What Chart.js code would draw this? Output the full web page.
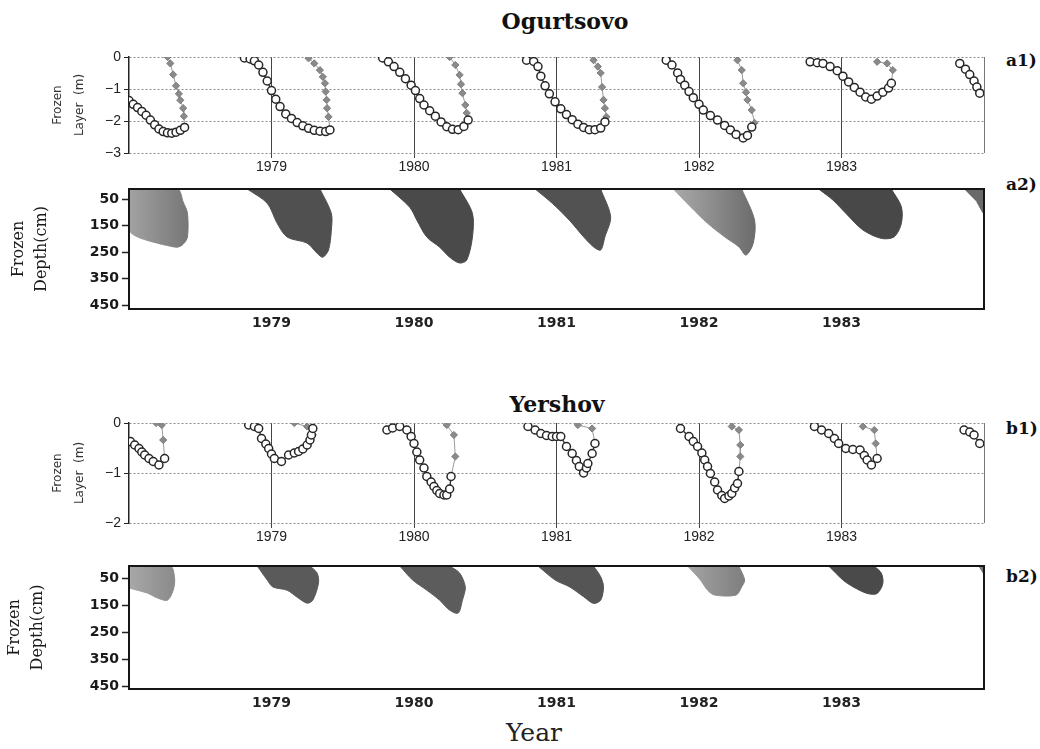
<!DOCTYPE html>
<html>
<head>
<meta charset="utf-8">
<title>Frozen layer - Ogurtsovo / Yershov</title>
<script src="https://cdn.jsdelivr.net/npm/chart.js@4.4.0/dist/chart.umd.min.js"></script>
<style>
	body { margin: 0; background: #fff; }
	#page { position: relative; width: 1040px; height: 749px; overflow: hidden; }
	.box { position: absolute; left: 0; width: 1040px; }
	.head { position: absolute; text-align: center; font-family: "DejaVu Serif"; font-weight: bold; font-size: 22px; color: #111; }
	.tag { position: absolute; left: 1006px; font-family: "DejaVu Serif"; font-weight: bold; font-size: 17px; color: #111; }
	.xlabel { position: absolute; left: 434px; top: 718px; width: 200px; text-align: center; font-family: "DejaVu Serif"; font-size: 25px; color: #222; }
</style>
</head>
<body>
<div id="page">
	<div class="head" style="left:465px; top:8px; width:200px;">Ogurtsovo</div>
	<div class="tag" style="top:50px;">a1)</div>
	<div class="tag" style="top:174px;">a2)</div>
	<div class="head" style="left:457px; top:391px; width:200px;">Yershov</div>
	<div class="tag" style="top:418px;">b1)</div>
	<div class="tag" style="top:566px;">b2)</div>
	<div class="xlabel">Year</div>

	<div class="box" style="top:45px; height:132px;"><canvas id="chartA1"></canvas></div>
	<div class="box" style="top:175px; height:158px;"><canvas id="chartA2"></canvas></div>
	<div class="box" style="top:411px; height:136px;"><canvas id="chartB1"></canvas></div>
	<div class="box" style="top:552px; height:161px;"><canvas id="chartB2"></canvas></div>
</div>
<script>
// time axis (years)
const xMin = 1978;
const xMax = 1984;
const yearTicks = [1979, 1980, 1981, 1982, 1983];

// tick values
const ogurLayerTicks = [0, -1, -2, -3];
const yershLayerTicks = [0, -1, -2];
const depthTicks = [50, 150, 250, 350, 450];
const depthMinorTicks = [100, 200, 300, 400];

// Ogurtsovo frozen layer (m), one list of [year, depth] per winter - open circles
const ogurFrozen = [
	[[1978.00,-1.36],[1978.03,-1.48],[1978.06,-1.58],[1978.09,-1.70],[1978.12,-1.82],[1978.15,-1.97],[1978.18,-2.12],[1978.21,-2.25],[1978.24,-2.33],[1978.27,-2.37],[1978.30,-2.38],[1978.33,-2.35],[1978.36,-2.29],[1978.39,-2.20]],
	[[1978.81,-0.03],[1978.85,-0.06],[1978.88,-0.12],[1978.91,-0.25],[1978.94,-0.48],[1978.97,-0.75],[1979.00,-1.05],[1979.03,-1.32],[1979.06,-1.55],[1979.10,-1.78],[1979.14,-1.92],[1979.18,-2.05],[1979.22,-2.15],[1979.26,-2.23],[1979.30,-2.29],[1979.34,-2.32],[1979.38,-2.33],[1979.41,-2.28]],
	[[1979.78,-0.03],[1979.82,-0.15],[1979.86,-0.30],[1979.90,-0.48],[1979.94,-0.68],[1979.98,-0.88],[1980.01,-1.05],[1980.04,-1.30],[1980.07,-1.50],[1980.11,-1.68],[1980.15,-1.85],[1980.19,-2.03],[1980.23,-2.18],[1980.27,-2.26],[1980.31,-2.27],[1980.35,-2.17],[1980.38,-1.97]],
	[[1980.79,-0.10],[1980.84,-0.14],[1980.87,-0.30],[1980.89,-0.60],[1980.92,-0.90],[1980.95,-1.15],[1980.99,-1.40],[1981.03,-1.62],[1981.07,-1.80],[1981.11,-1.96],[1981.15,-2.10],[1981.19,-2.20],[1981.23,-2.27],[1981.27,-2.27],[1981.31,-2.22],[1981.34,-2.03]],
	[[1981.77,-0.10],[1981.81,-0.25],[1981.85,-0.50],[1981.87,-0.70],[1981.90,-0.88],[1981.93,-1.08],[1981.96,-1.27],[1982.00,-1.48],[1982.03,-1.66],[1982.08,-1.83],[1982.13,-1.97],[1982.18,-2.14],[1982.22,-2.28],[1982.26,-2.42],[1982.31,-2.53],[1982.34,-2.45],[1982.37,-2.19]],
	[[1982.78,-0.15],[1982.83,-0.18],[1982.87,-0.20],[1982.92,-0.30],[1982.97,-0.43],[1983.01,-0.60],[1983.05,-0.78],[1983.09,-0.95],[1983.13,-1.10],[1983.17,-1.25],[1983.21,-1.32],[1983.25,-1.22],[1983.29,-1.10],[1983.33,-0.97],[1983.35,-0.82]],
	[[1983.83,-0.20],[1983.87,-0.38],[1983.90,-0.55],[1983.93,-0.75],[1983.95,-0.94],[1983.97,-1.13]]
];

// Ogurtsovo thawed layer from the surface (m) - grey diamonds
const ogurThaw = [
	[[1978.27,0],[1978.29,-0.20],[1978.31,-0.55],[1978.33,-0.90],[1978.35,-1.15],[1978.36,-1.35],[1978.38,-1.60],[1978.385,-1.85],[1978.39,-2.20]],
	[[1979.26,-0.04],[1979.30,-0.20],[1979.34,-0.41],[1979.36,-0.62],[1979.375,-0.82],[1979.38,-1.08],[1979.387,-1.34],[1979.39,-1.60],[1979.40,-1.87],[1979.41,-2.28]],
	[[1980.25,0],[1980.29,-0.25],[1980.32,-0.56],[1980.33,-0.85],[1980.34,-1.13],[1980.36,-1.50],[1980.37,-1.75],[1980.38,-1.97]],
	[[1981.26,-0.10],[1981.29,-0.30],[1981.31,-0.50],[1981.32,-0.94],[1981.33,-1.34],[1981.34,-1.60],[1981.35,-1.87],[1981.34,-2.03]],
	[[1982.27,-0.10],[1982.30,-0.41],[1982.31,-0.82],[1982.33,-1.10],[1982.34,-1.34],[1982.37,-1.66],[1982.39,-2.06]],
	[[1983.25,-0.15],[1983.32,-0.20],[1983.36,-0.41],[1983.35,-0.82]]
];

// Yershov frozen layer (m) - open circles
const yershFrozen = [
	[[1978.01,-0.37],[1978.04,-0.44],[1978.07,-0.51],[1978.09,-0.58],[1978.11,-0.64],[1978.14,-0.71],[1978.17,-0.77],[1978.21,-0.84],[1978.25,-0.71]],
	[[1978.84,-0.04],[1978.88,-0.07],[1978.91,-0.11],[1978.93,-0.31],[1978.96,-0.42],[1978.98,-0.51],[1979.00,-0.62],[1979.02,-0.71],[1979.07,-0.77],[1979.12,-0.64],[1979.16,-0.60],[1979.19,-0.57],[1979.22,-0.52],[1979.25,-0.44],[1979.27,-0.34],[1979.28,-0.24],[1979.29,-0.11]],
	[[1979.81,-0.14],[1979.85,-0.10],[1979.90,-0.07],[1979.95,-0.14],[1979.98,-0.27],[1980.00,-0.41],[1980.02,-0.58],[1980.04,-0.74],[1980.07,-0.90],[1980.09,-1.07],[1980.12,-1.18],[1980.14,-1.27],[1980.16,-1.35],[1980.18,-1.41],[1980.21,-1.44],[1980.23,-1.44],[1980.25,-1.32],[1980.26,-1.07]],
	[[1980.80,-0.07],[1980.85,-0.14],[1980.89,-0.21],[1980.93,-0.25],[1980.97,-0.27],[1981.00,-0.27],[1981.03,-0.27],[1981.07,-0.47],[1981.11,-0.61],[1981.14,-0.75],[1981.16,-0.87],[1981.19,-1.00],[1981.21,-0.90],[1981.22,-0.81],[1981.25,-0.61],[1981.27,-0.41]],
	[[1981.87,-0.11],[1981.93,-0.27],[1981.96,-0.37],[1981.99,-0.47],[1982.02,-0.60],[1982.04,-0.74],[1982.06,-0.87],[1982.08,-1.01],[1982.11,-1.18],[1982.13,-1.34],[1982.16,-1.45],[1982.18,-1.51],[1982.21,-1.46],[1982.23,-1.41],[1982.25,-1.30],[1982.27,-1.21],[1982.28,-0.97]],
	[[1982.81,-0.07],[1982.86,-0.14],[1982.91,-0.21],[1982.95,-0.31],[1982.98,-0.41],[1983.03,-0.51],[1983.08,-0.53],[1983.13,-0.54],[1983.16,-0.65],[1983.18,-0.74],[1983.21,-0.84],[1983.25,-0.71]],
	[[1983.86,-0.14],[1983.90,-0.18],[1983.93,-0.24],[1983.97,-0.41]]
];

// Yershov thawed layer (m) - grey diamonds
const yershThaw = [
	[[1978.19,0],[1978.23,-0.04],[1978.24,-0.34],[1978.25,-0.71]],
	[[1979.16,0],[1979.25,-0.07],[1979.29,-0.24]],
	[[1980.23,-0.04],[1980.28,-0.24],[1980.29,-0.67],[1980.26,-1.07]],
	[[1981.15,-0.04],[1981.25,-0.11],[1981.27,-0.41]],
	[[1982.23,-0.07],[1982.28,-0.14],[1982.29,-0.44],[1982.29,-0.67],[1982.28,-0.97]],
	[[1983.15,-0.07],[1983.23,-0.14],[1983.24,-0.41],[1983.25,-0.71]]
];

// frozen zone outline, [year, depth cm] going round each winter
const ogurDepthShapes = [
	[[1978.00,11],[1978.34,11],[1978.38,60],[1978.41,102],[1978.41,193],[1978.38,220],[1978.34,231],[1978.27,225],[1978.20,216],[1978.08,197],[1978.02,180],[1978.00,166]],
	[[1978.83,11],[1978.97,65],[1979.04,141],[1979.11,193],[1979.25,216],[1979.32,254],[1979.36,269],[1979.40,242],[1979.42,167],[1979.42,103],[1979.34,11]],
	[[1979.83,11],[1979.97,80],[1980.02,129],[1980.09,193],[1980.18,231],[1980.25,269],[1980.32,291],[1980.37,280],[1980.41,193],[1980.41,103],[1980.32,11]],
	[[1980.85,11],[1980.97,65],[1981.09,129],[1981.19,192],[1981.26,230],[1981.31,242],[1981.34,192],[1981.38,116],[1981.31,11]],
	[[1981.82,11],[1981.94,78],[1982.06,141],[1982.18,192],[1982.28,230],[1982.33,261],[1982.38,217],[1982.39,129],[1982.30,11]],
	[[1982.84,11],[1982.94,53],[1983.03,103],[1983.15,166],[1983.28,198],[1983.37,192],[1983.42,141],[1983.42,78],[1983.35,11]],
	[[1983.86,11],[1984.00,11],[1984.00,103],[1983.95,60]]
];
const yershDepthShapes = [
	[[1978.00,4],[1978.29,4],[1978.32,50],[1978.31,94],[1978.27,131],[1978.20,123],[1978.13,105],[1978.03,90],[1978.00,86]],
	[[1978.90,4],[1978.97,56],[1979.01,82],[1979.11,94],[1979.18,120],[1979.25,142],[1979.29,131],[1979.33,67],[1979.32,30],[1979.27,4]],
	[[1979.90,4],[1979.99,56],[1980.09,94],[1980.18,131],[1980.25,168],[1980.31,179],[1980.34,131],[1980.36,82],[1980.32,30],[1980.25,4]],
	[[1980.87,4],[1980.99,56],[1981.09,81],[1981.19,118],[1981.26,143],[1981.31,131],[1981.33,81],[1981.31,44],[1981.26,4]],
	[[1981.92,4],[1982.01,56],[1982.06,94],[1982.11,112],[1982.26,112],[1982.30,81],[1982.32,56],[1982.28,4]],
	[[1982.91,4],[1983.01,56],[1983.08,81],[1983.18,106],[1983.25,106],[1983.29,69],[1983.28,31],[1983.23,4]],
	[[1983.96,4],[1984.00,4],[1984.00,38]]
];

// shading of each winter (pairs shade from left to right)
const ogurShadeColors = [['#a2a2a2', '#777777'], '#505050', '#4a4a4a', '#525252', ['#aaaaaa', '#6c6c6c'], '#484848', '#6a6a6a'];
const yershShadeColors = [['#a8a8a8', '#8a8a8a'], '#5a5a5a', '#5c5c5c', '#555555', ['#a4a4a4', '#7e7e7e'], '#4a4a4a', '#7a7a7a'];

const AREA_RIGHT = 984;
const AXIS_WIDTH = 129;
const PAGE_W = 1040;

Chart.defaults.font.family = 'Liberation Sans';
Chart.defaults.color = '#222';

function toPoints(list) {
	return list.map(p => ({x: p[0], y: p[1]}));
}

// horizontal shade for a winter, or a plain colour
function shadeFor(shape, color) {
	if (!Array.isArray(color)) return color;
	return (ctx) => {
		const chart = ctx.chart;
		if (!chart.chartArea) return color[1];
		const xs = shape.map(p => p[0]);
		const x0 = chart.scales.x.getPixelForValue(Math.min(...xs));
		const x1 = chart.scales.x.getPixelForValue(Math.max(...xs));
		const grad = chart.ctx.createLinearGradient(x0, 0, x1, 0);
		grad.addColorStop(0, color[0]);
		grad.addColorStop(1, color[1]);
		return grad;
	};
}

// box round the plot area (depth panels)
const framePlugin = {
	id: 'frame',
	afterDatasetsDraw(chart) {
		const {ctx, chartArea: {left, top, width, height}} = chart;
		ctx.save();
		ctx.strokeStyle = '#151515';
		ctx.lineWidth = 2;
		ctx.strokeRect(left, top, width, height);
		ctx.restore();
	}
};

function yearAxis(labelFont, padding, withGrid) {
	return {
		type: 'linear',
		min: xMin,
		max: xMax,
		afterBuildTicks: s => { s.ticks = [xMin, ...yearTicks, xMax].map(v => ({value: v})); },
		afterFit: s => { s.height = 24; },
		ticks: {
			autoSkip: false,
			maxRotation: 0,
			padding: padding,
			font: labelFont,
			color: '#222',
			callback: v => yearTicks.includes(v) ? String(v) : ''
		},
		grid: withGrid ? {
			color: c => c.tick && c.tick.value === xMin ? 'rgba(0,0,0,0)' : (c.tick && c.tick.value === xMax ? '#777' : '#444'),
			tickColor: c => c.tick && yearTicks.includes(c.tick.value) ? '#444' : 'rgba(0,0,0,0)',
			lineWidth: 1,
			tickLength: 5
		} : { display: true, drawOnChartArea: false, drawTicks: false },
		border: { display: false }
	};
}

// frozen / thawed layer panels
function layerChart(id, frozen, thaw, ticks) {
	const datasets = [];
	frozen.forEach(season => {
		datasets.push({
			data: toPoints(season),
			borderColor: '#333333',
			borderWidth: 1.4,
			pointRadius: 4,
			pointBackgroundColor: '#ffffff',
			pointBorderColor: '#262626',
			pointBorderWidth: 1.5
		});
	});
	thaw.forEach(season => {
		datasets.push({
			data: toPoints(season),
			borderColor: '#9a9a9a',
			borderWidth: 1,
			pointStyle: 'rectRot',
			pointRadius: 3.6,
			pointBackgroundColor: '#8a8a8a',
			pointBorderColor: '#7c7c7c',
			pointBorderWidth: 1
		});
	});

	new Chart(document.getElementById(id), {
		type: 'line',
		data: { datasets: datasets },
		options: {
			responsive: true,
			maintainAspectRatio: false,
			animation: false,
			layout: { padding: { top: 12, right: PAGE_W - AREA_RIGHT, left: 0, bottom: 0 } },
			plugins: { legend: { display: false }, tooltip: { enabled: false } },
			scales: {
				x: yearAxis({ family: 'Liberation Sans', size: 14 }, 1, true),
				y: {
					min: ticks[ticks.length - 1],
					max: ticks[0],
					afterBuildTicks: s => { s.ticks = ticks.map(v => ({value: v})); },
					afterFit: s => { s.width = AXIS_WIDTH; },
					ticks: {
						padding: 3,
						font: { family: 'Liberation Sans', size: 14 },
						color: '#222',
						callback: v => String(v).replace('-', '\u2212')
					},
					grid: {
						color: '#8a8a8a',
						lineWidth: 1,
						tickLength: 5,
						tickColor: '#222',
						tickBorderDash: []
					},
					border: { display: true, color: '#222', width: 1.5, dash: [2, 2] },
					title: {
						display: true,
						text: ['Frozen', 'Layer  (m)'],
						font: { family: 'DejaVu Sans', size: 12, lineHeight: 1.8 },
						color: '#333',
						padding: { top: 47 }
					}
				}
			}
		}
	});
}

// frozen depth panels (shaded zone)
function depthChart(id, shapes, colors, yMin, yMax, titlePad) {
	const datasets = shapes.map((shape, i) => ({
		data: toPoints(shape),
		fill: 'shape',
		backgroundColor: shadeFor(shape, colors[i]),
		borderColor: shadeFor(shape, colors[i]),
		borderWidth: 1,
		pointRadius: 0,
		tension: 0.3
	}));

	new Chart(document.getElementById(id), {
		type: 'line',
		data: { datasets: datasets },
		options: {
			responsive: true,
			maintainAspectRatio: false,
			animation: false,
			layout: { padding: { top: 14, right: PAGE_W - AREA_RIGHT, left: 0, bottom: 0 } },
			plugins: { legend: { display: false }, tooltip: { enabled: false } },
			scales: {
				x: yearAxis({ family: 'DejaVu Sans', size: 14, weight: 'bold' }, 6, false),
				y: {
					reverse: true,
					min: yMin,
					max: yMax,
					afterBuildTicks: s => {
						s.ticks = depthTicks.concat(depthMinorTicks).sort((a, b) => a - b).map(v => ({value: v}));
					},
					afterFit: s => { s.width = AXIS_WIDTH; },
					ticks: {
						padding: 3,
						font: { family: 'DejaVu Sans', size: 14, weight: 'bold' },
						color: '#1a1a1a',
						callback: v => depthTicks.includes(v) ? String(v) : ''
					},
					grid: {
						drawOnChartArea: false,
						tickLength: 7,
						tickWidth: 1.5,
						tickColor: '#222'
					},
					border: { display: true, color: '#151515', width: 2 },
					title: {
						display: true,
						text: ['Frozen', 'Depth(cm)'],
						font: { family: 'DejaVu Serif', size: 16, lineHeight: 1.45 },
						color: '#1a1a1a',
						padding: { top: titlePad }
					}
				}
			}
		},
		plugins: [framePlugin]
	});
}

layerChart('chartA1', ogurFrozen, ogurThaw, ogurLayerTicks);
depthChart('chartA2', ogurDepthShapes, ogurShadeColors, 11, 465, 7);
layerChart('chartB1', yershFrozen, yershThaw, yershLayerTicks);
depthChart('chartB2', yershDepthShapes, yershShadeColors, 4, 461, 3);
</script>
</body>
</html>
